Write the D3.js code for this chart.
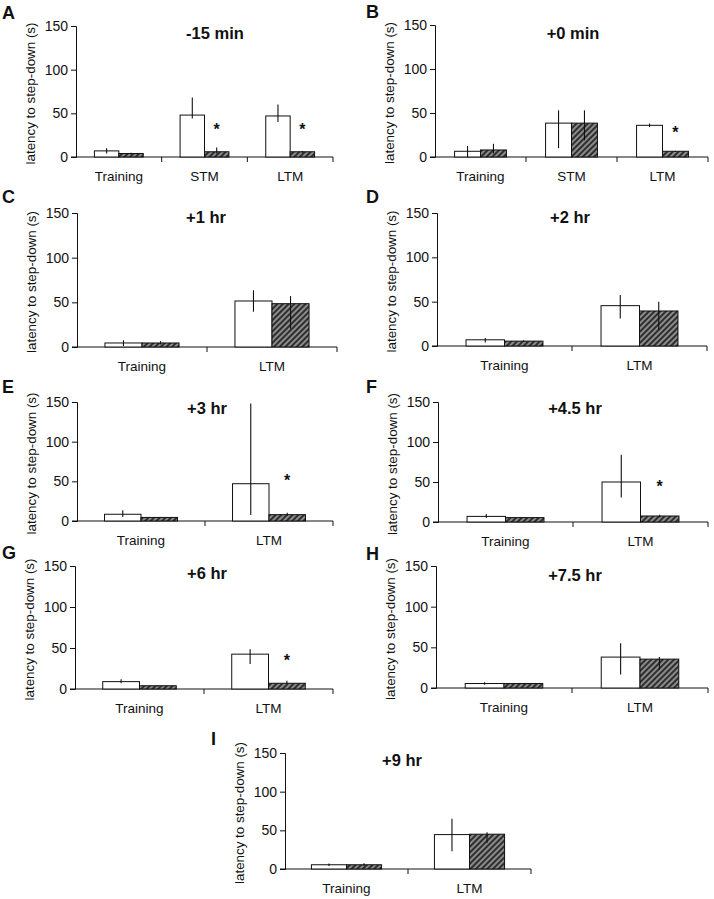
<!DOCTYPE html>
<html>
<head>
<meta charset="utf-8">
<script src="https://cdn.jsdelivr.net/npm/d3@7"></script>
<style>
  html, body { margin: 0; padding: 0; background: #fff; }
  svg { display: block; }
  text { font-family: Arial, "Liberation Sans", sans-serif; fill: #111; }
</style>
</head>
<body>
<script>
// ---------------- DATA ----------------
const panelLetters = ["A", "B", "C", "D", "E", "F", "G", "H", "I"];
const panelTitles = ["-15 min", "+0 min", "+1 hr", "+2 hr", "+3 hr", "+4.5 hr", "+6 hr", "+7.5 hr", "+9 hr"];
const panelCategories = [
  ["Training", "STM", "LTM"],
  ["Training", "STM", "LTM"],
  ["Training", "LTM"],
  ["Training", "LTM"],
  ["Training", "LTM"],
  ["Training", "LTM"],
  ["Training", "LTM"],
  ["Training", "LTM"],
  ["Training", "LTM"]
];
// open bars (control)
const openMeans = [[7, 48, 47], [6.5, 38.5, 36], [4.5, 51.5], [7, 45.5], [8.5, 47], [7, 50], [9, 42.5], [5.5, 38], [5.5, 44.5]];
const openErrHigh = [[10, 68, 60], [12.5, 53, 38], [7.5, 63.5], [9, 57.5], [13.5, 148], [10, 84], [12, 48.5], [7, 55], [7, 65]];
const openErrLow = [[4, 44, 40], [0, 10, 34], [1, 39.5], [4, 31], [5, 7.5], [5, 30.5], [7, 30.5], [4, 16.5], [4, 23]];
// hatched bars (treated)
const hatchMeans = [[4, 6, 6], [8, 38.5, 6.5], [4.5, 48.5], [5.5, 39.5], [4.5, 8], [5.5, 7.5], [4, 7], [5.5, 35.5], [5.5, 45]];
const hatchErrHigh = [[5, 11, 7], [15, 53, 7], [6.5, 57], [6.5, 50], [5, 10.5], [6, 9], [4.5, 10], [6, 38], [7.5, 47.5]];
const hatchErrLow = [[3, 4, 5], [4, 19, 6], [3, 20.5], [4.5, 18], [4, 7], [5, 6], [3.5, 6], [5, 22.5], [4, 33.5]];
// significance markers (category, value level)
const starCategories = [["STM", "LTM"], ["LTM"], [], [], ["LTM"], ["LTM"], ["LTM"], [], []];
const starLevels = [[35, 35], [32], [], [], [56], [49], [39], [], []];
const yTicks = [0, 50, 100, 150];
const yLabel = "latency to step-down (s)";

// ---------------- LAYOUT ----------------
const layout = [
  {ax: 76,  ax1: 333, yT: 26,  yB: 157, lx: 2,   ly: 19,  tx: 215, ty: 39},
  {ax: 435, ax1: 708, yT: 25,  yB: 157, lx: 366, ly: 18,  tx: 573, ty: 39},
  {ax: 77,  ax1: 337, yT: 213, yB: 347, lx: 2,   ly: 203, tx: 206, ty: 223},
  {ax: 437, ax1: 707, yT: 213, yB: 346, lx: 366, ly: 203, tx: 570, ty: 223},
  {ax: 77,  ax1: 333, yT: 402, yB: 521, lx: 2,   ly: 393, tx: 207, ty: 414},
  {ax: 438, ax1: 708, yT: 402, yB: 522, lx: 366, ly: 393, tx: 575, ty: 414},
  {ax: 75,  ax1: 333, yT: 566, yB: 689, lx: 2,   ly: 559, tx: 207, ty: 579},
  {ax: 436, ax1: 708, yT: 566, yB: 688, lx: 366, ly: 560, tx: 575, ty: 581},
  {ax: 285, ax1: 531, yT: 753, yB: 869, lx: 211, ly: 745, tx: 402, ty: 766}
];

const W = 714, H = 899;
const svg = d3.select("body").append("svg").attr("width", W).attr("height", H);

const defs = svg.append("defs");
const pat = defs.append("pattern")
  .attr("id", "hatch").attr("patternUnits", "userSpaceOnUse")
  .attr("width", 4).attr("height", 4)
  .attr("patternTransform", "rotate(45)");
pat.append("rect").attr("width", 4).attr("height", 4).attr("fill", "#2e2e2e");
pat.append("line").attr("x1", 1).attr("y1", 0).attr("x2", 1).attr("y2", 4)
  .attr("stroke", "#d8d8d8").attr("stroke-width", 1.1);

panelLetters.forEach((letter, i) => {
  const L = layout[i];
  const cats = panelCategories[i];
  const g = svg.append("g");

  const y = d3.scaleLinear().domain([0, 150]).range([L.yB, L.yT]);
  const x = d3.scaleBand().domain(cats).range([L.ax, L.ax1]).paddingInner(0).paddingOuter(0);
  const inner = d3.scaleBand().domain(["open", "hatch"]).range([0, x.bandwidth() * 0.57]).padding(0);
  const off = (x.bandwidth() - x.bandwidth() * 0.57) / 2;

  // y axis
  const yAxis = d3.axisLeft(y).tickValues(yTicks).tickSize(5).tickPadding(3);
  const ya = g.append("g").attr("transform", `translate(${L.ax},0)`).call(yAxis);
  ya.select(".domain").attr("stroke", "#111").attr("stroke-width", 1);
  ya.selectAll(".tick line").attr("stroke", "#111");
  ya.selectAll(".tick text").style("font-size", "14px").style("font-family", "Arial, 'Liberation Sans', sans-serif").attr("fill", "#111");

  // x axis line with boundary ticks
  const bounds = cats.map(c => x(c)).concat([L.ax1]);
  g.append("line").attr("x1", L.ax - 5).attr("x2", L.ax1).attr("y1", y(0)).attr("y2", y(0))
    .attr("stroke", "#111").attr("stroke-width", 1);
  g.selectAll(".xt").data(bounds.slice(1)).enter().append("line")
    .attr("x1", d => d).attr("x2", d => d).attr("y1", y(0)).attr("y2", y(0) + 5)
    .attr("stroke", "#111");
  g.selectAll(".xl").data(cats).enter().append("text")
    .attr("x", d => x(d) + x.bandwidth() / 2).attr("y", y(0) + 24)
    .attr("text-anchor", "middle").style("font-size", "13.5px").text(d => d);

  // bars
  const bars = [];
  cats.forEach((c, j) => {
    bars.push({c, s: "open", v: openMeans[i][j], hi: openErrHigh[i][j], lo: openErrLow[i][j]});
    bars.push({c, s: "hatch", v: hatchMeans[i][j], hi: hatchErrHigh[i][j], lo: hatchErrLow[i][j]});
  });
  g.selectAll(".bar").data(bars).enter().append("rect")
    .attr("x", d => x(d.c) + off + inner(d.s))
    .attr("width", inner.bandwidth())
    .attr("y", d => y(d.v))
    .attr("height", d => y(0) - y(d.v))
    .attr("fill", d => d.s === "open" ? "#fff" : "url(#hatch)")
    .attr("stroke", "#111").attr("stroke-width", 1);
  g.selectAll(".err").data(bars).enter().append("line")
    .attr("x1", d => x(d.c) + off + inner(d.s) + inner.bandwidth() / 2)
    .attr("x2", d => x(d.c) + off + inner(d.s) + inner.bandwidth() / 2)
    .attr("y1", d => y(d.hi)).attr("y2", d => y(d.lo))
    .attr("stroke", "#111").attr("stroke-width", 1.1);

  // stars
  const stars = starCategories[i].map((c, k) => ({c, v: starLevels[i][k]}));
  g.selectAll(".star").data(stars).enter().append("text")
    .attr("x", d => x(d.c) + off + inner("hatch") + inner.bandwidth() / 2)
    .attr("y", d => y(d.v) + 9)
    .attr("text-anchor", "middle").style("font-size", "16px").style("font-weight", "bold")
    .text("*");

  // y label
  g.append("text")
    .attr("transform", `translate(${L.ax - 41},${(L.yT + L.yB) / 2 + 2}) rotate(-90)`)
    .attr("text-anchor", "middle").style("font-size", "13px")
    .attr("textLength", 142).attr("lengthAdjust", "spacingAndGlyphs")
    .text(yLabel);

  // title
  g.append("text").attr("x", L.tx).attr("y", L.ty).attr("text-anchor", "middle")
    .style("font-size", "16.5px").style("font-weight", "bold").text(panelTitles[i]);

  // panel letter
  g.append("text").attr("x", L.lx).attr("y", L.ly)
    .style("font-size", "18px").style("font-weight", "bold").text(letter);
});
</script>
</body>
</html>
